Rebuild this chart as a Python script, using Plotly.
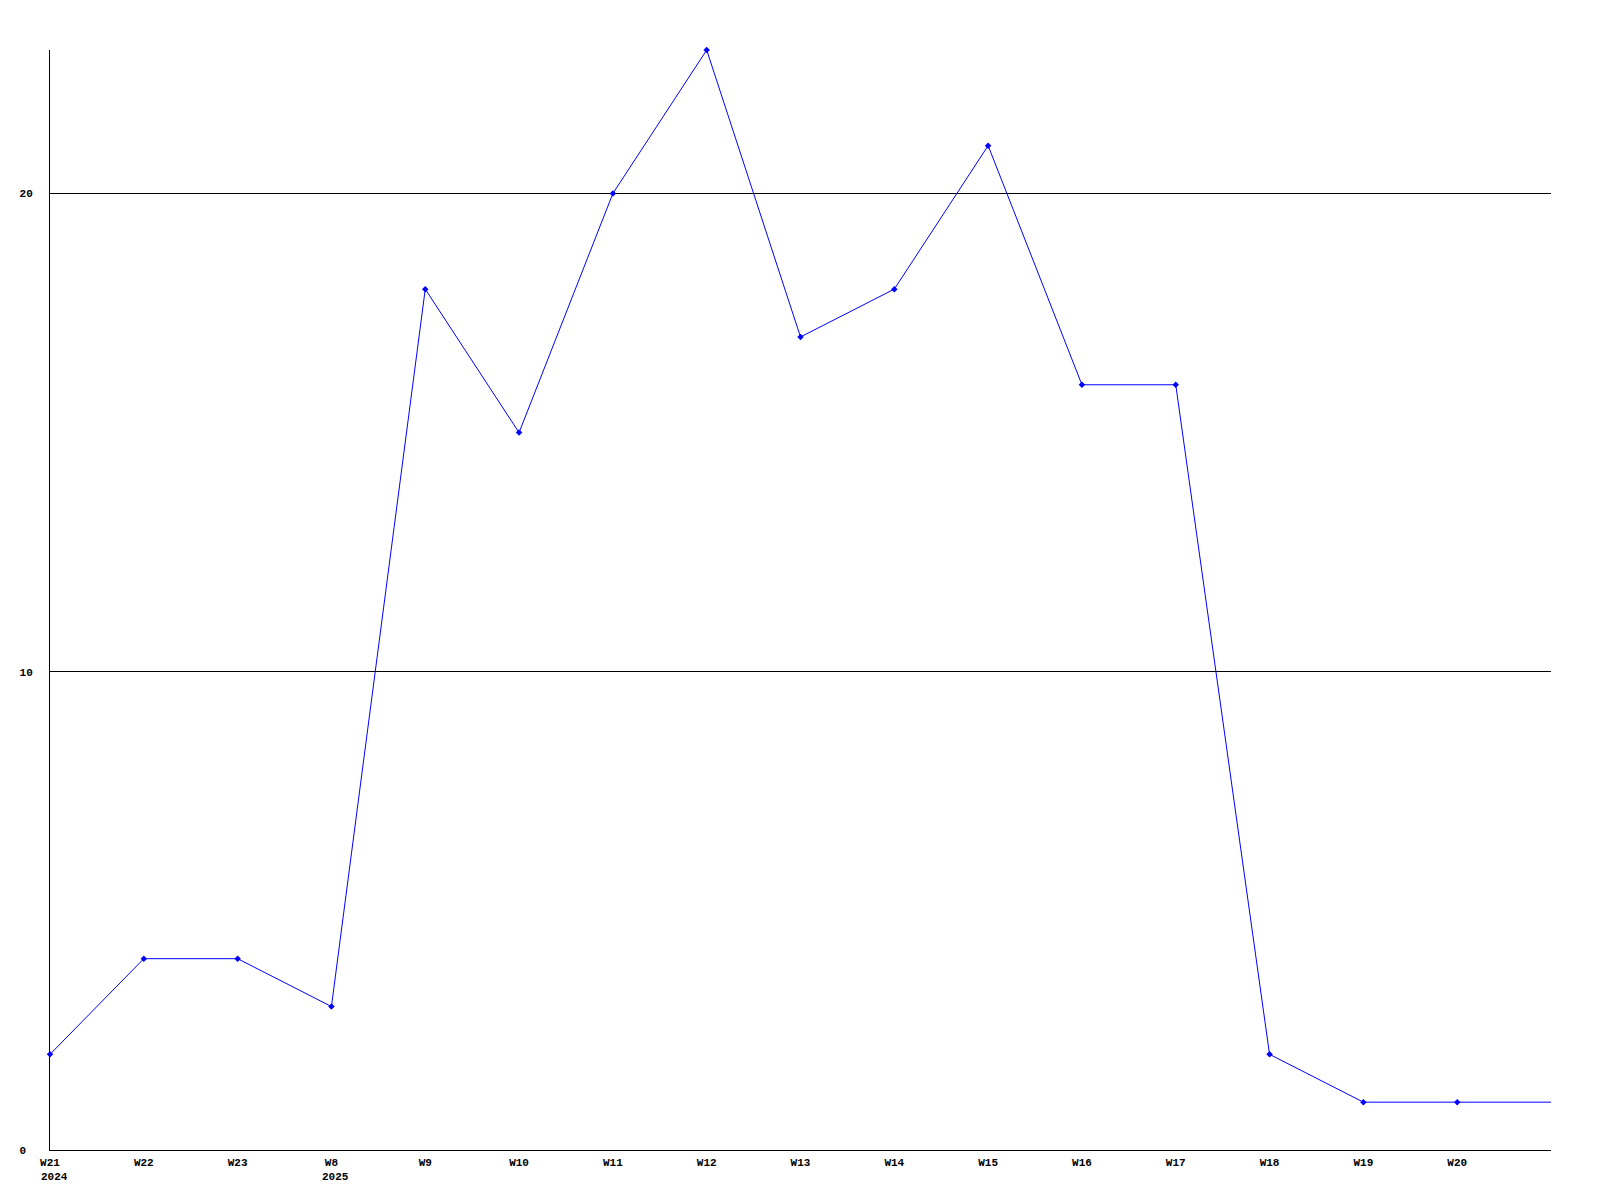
import plotly.graph_objects as go

weeks = ["W21", "W22", "W23", "W8", "W9", "W10", "W11", "W12", "W13", "W14",
         "W15", "W16", "W17", "W18", "W19", "W20"]
years = {"W21": "2024", "W8": "2025"}
values = [2, 4, 4, 3, 18, 15, 20, 23, 17, 18, 21, 16, 16, 2, 1, 1, 1]
y_ticks = [0, 10, 20]

FONT = "Liberation Mono"
idx_all = list(range(len(values)))
idx_weeks = list(range(len(weeks)))

fig = go.Figure()
fig.add_trace(go.Scatter(x=idx_all, y=values, mode="lines",
                         line=dict(color="#0000ff", width=1), hoverinfo="skip"))
fig.add_trace(go.Scatter(x=idx_weeks, y=values[:len(weeks)], mode="markers",
                         marker=dict(color="#0000ff", size=5, symbol="diamond"),
                         cliponaxis=False))

ann = []
for i, w in enumerate(weeks):
    if w in years:
        ann.append(dict(x=i, y=0, xref="x", yref="y", text=years[w], showarrow=False,
                        xanchor="left", yanchor="top", xshift=-11, yshift=-19,
                        font=dict(family=FONT, size=11, color="black", weight="bold")))

fig.update_layout(
    width=1600, height=1200,
    margin=dict(l=42, r=57, t=42, b=58),
    paper_bgcolor="white", plot_bgcolor="white",
    showlegend=False,
    annotations=ann,
    xaxis=dict(range=[0, len(weeks)], tickvals=idx_weeks, ticktext=weeks,
               showgrid=False, zeroline=False, showline=True, linecolor="black",
               linewidth=1, ticks="", ticklabelstandoff=2,
               tickfont=dict(family=FONT, size=11, color="black", weight="bold")),
    yaxis=dict(range=[0, 23], tickvals=y_ticks,
               ticktext=[str(v) + "\u00a0" * (2 - len(str(v))) for v in y_ticks],
               showgrid=True, gridcolor="black", gridwidth=1, zeroline=False,
               showline=True, linecolor="black", linewidth=1, ticks="",
               ticklabelstandoff=14,
               tickfont=dict(family=FONT, size=11, color="black", weight="bold")),
)

fig.write_html("out.html")
